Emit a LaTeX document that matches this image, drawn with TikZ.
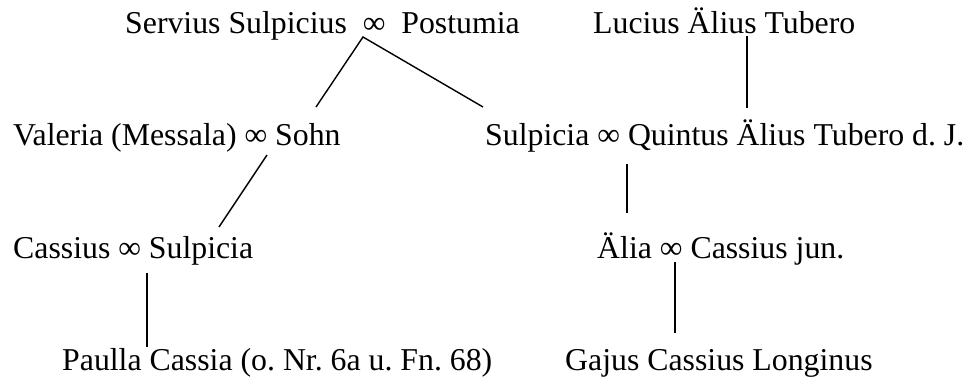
\documentclass[tikz,border=0pt]{standalone}
\usepackage{fontspec}
\setmainfont{Liberation Serif}
\begin{document}
\frenchspacing
\begin{tikzpicture}[x=1pt,y=-1pt,
  person/.style={inner sep=0pt,anchor=base west,font=\fontsize{31.8}{36}\selectfont},
  link/.style={line width=1.4pt,black}]
\useasboundingbox (0,0) rectangle (971,382);
% row 1
\node[person] (ss) at (125,34) {Servius Sulpicius\ \ ∞\ \ Postumia};
\node[person] (lt) at (593,34) {Lucius Älius Tubero};
% row 2
\node[person] (vm) at (13,146) {Valeria (Messala) ∞ Sohn};
\node[person] (sq) at (485,146) {Sulpicia ∞ Quintus Älius Tubero d. J.};
% row 3
\node[person] (cs) at (13,258) {Cassius ∞ Sulpicia};
\node[person] (ac) at (597,258) {Älia ∞ Cassius jun.};
% row 4
\node[person] (pc) at (62,370) {Paulla Cassia (o. Nr. 6a u. Fn. 68)};
\node[person] (gl) at (565,370) {Gajus Cassius Longinus};
% connector end points
\coordinate (ssA) at (363,37);
\coordinate (vmT) at (316,107);
\coordinate (sqT) at (483,107);
\coordinate (ltB) at (747,36);
\coordinate (sqR) at (747,108);
\coordinate (vmB) at (267,155);
\coordinate (csT) at (219,227);
\coordinate (sqB) at (627,164);
\coordinate (acT) at (627,213);
\coordinate (csB) at (147,273);
\coordinate (pcT) at (147,347);
\coordinate (acB) at (675,262);
\coordinate (glT) at (675,333);
\draw[link] (vmT) -- (ssA) -- (sqT);
\draw[link] (ltB) -- (sqR);
\draw[link] (vmB) -- (csT);
\draw[link] (sqB) -- (acT);
\draw[link] (csB) -- (pcT);
\draw[link] (acB) -- (glT);
\end{tikzpicture}
\end{document}
